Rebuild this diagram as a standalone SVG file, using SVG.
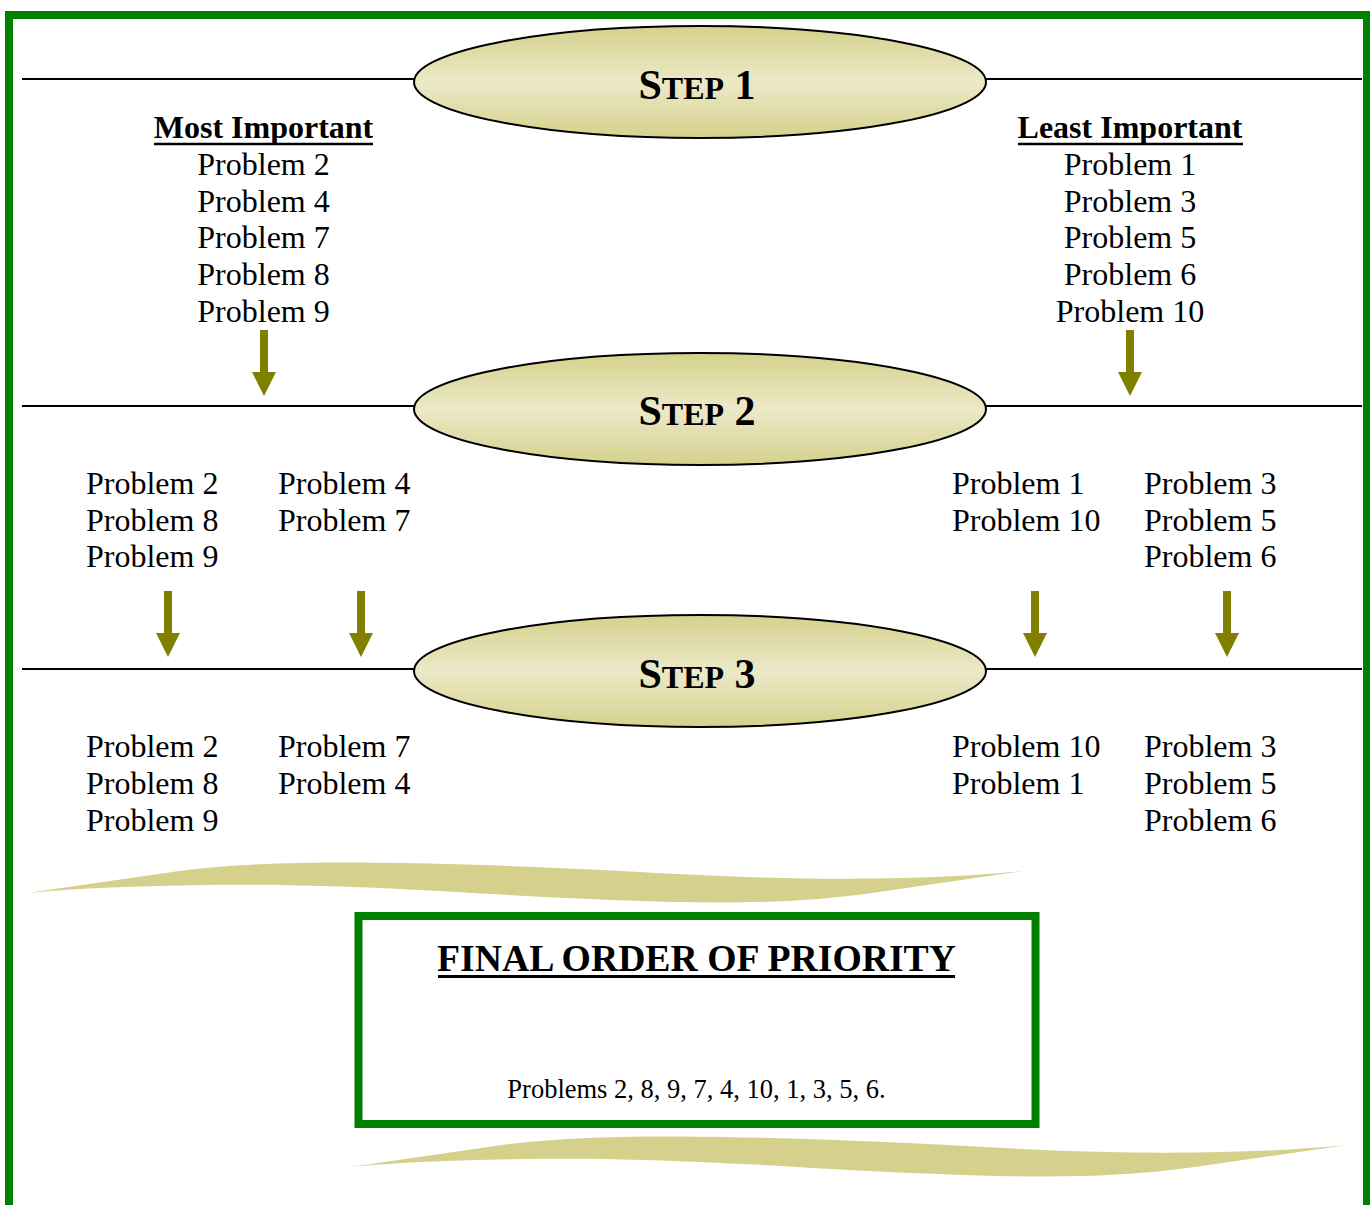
<svg xmlns="http://www.w3.org/2000/svg" xmlns:xlink="http://www.w3.org/1999/xlink" width="1370" height="1205" viewBox="0 0 1370 1205">
<style>
.t{font-family:"Liberation Serif","Times New Roman",serif;font-size:32px;fill:#000}
.c{text-anchor:middle}
.b{font-weight:bold}
.step{font-family:"Liberation Serif","Times New Roman",serif;font-size:42px;font-weight:bold;text-anchor:middle;fill:#000}
.rule{stroke:#000;stroke-width:2;fill:none}
.oval{fill:url(#g);stroke:#000;stroke-width:2}
.wave{fill:#d5d18c}
.arr{fill:#808000}
</style>
<defs>
<linearGradient id="g" x1="0" y1="0" x2="0" y2="1">
<stop offset="0" stop-color="#d5d18c"/>
<stop offset="0.5" stop-color="#ece9c8"/>
<stop offset="1" stop-color="#d5d18c"/>
</linearGradient>
<path id="arrow" class="arr" d="M-4,-66 L4,-66 L4,-24 L12,-24 L0,0 L-12,-24 L-4,-24 Z"/>
<path id="wave" class="wave" d="M27,893 L179,871 C250,862 330,862 400,863 C520,865 620,871 700,875 C820,881 930,880 1024,871 L872,893 C800,903 740,903 676,902 C560,899 480,893 420,890 C330,885 250,884 203,885 C140,886 80,888 27,893 Z"/>
</defs>
<rect x="0" y="0" width="1370" height="1205" fill="#fff"/>
<rect id="frame" x="9" y="15" width="1358" height="1300" fill="none" stroke="#008000" stroke-width="8"/>
<g id="rules">
<line class="rule" x1="22" y1="79" x2="1362" y2="79"/>
<line class="rule" x1="22" y1="406" x2="1362" y2="406"/>
<line class="rule" x1="22" y1="669" x2="1362" y2="669"/>
</g>
<g id="step1">
<ellipse class="oval" cx="700" cy="82" rx="286" ry="56"/>
<text class="step" x="697" y="99">S<tspan font-size="32">TEP</tspan> 1</text>
</g>
<g id="step2">
<ellipse class="oval" cx="700" cy="409" rx="286" ry="56"/>
<text class="step" x="697" y="425">S<tspan font-size="32">TEP</tspan> 2</text>
</g>
<g id="step3">
<ellipse class="oval" cx="700" cy="671" rx="286" ry="56"/>
<text class="step" x="697" y="688">S<tspan font-size="32">TEP</tspan> 3</text>
</g>
<g id="most-important">
<text class="t c b" x="263.5" y="138">Most Important</text>
<line x1="154" y1="144" x2="373" y2="144" stroke="#000" stroke-width="2.5"/>
<text class="t c" x="263.5" y="175">Problem 2</text>
<text class="t c" x="263.5" y="211.7">Problem 4</text>
<text class="t c" x="263.5" y="248.4">Problem 7</text>
<text class="t c" x="263.5" y="285.1">Problem 8</text>
<text class="t c" x="263.5" y="321.8">Problem 9</text>
</g>
<g id="least-important">
<text class="t c b" x="1130" y="138">Least Important</text>
<line x1="1018" y1="144" x2="1243" y2="144" stroke="#000" stroke-width="2.5"/>
<text class="t c" x="1130" y="175">Problem 1</text>
<text class="t c" x="1130" y="211.7">Problem 3</text>
<text class="t c" x="1130" y="248.4">Problem 5</text>
<text class="t c" x="1130" y="285.1">Problem 6</text>
<text class="t c" x="1130" y="321.8">Problem 10</text>
</g>
<g id="step2-group-a">
<text class="t" x="86" y="494">Problem 2</text>
<text class="t" x="86" y="530.7">Problem 8</text>
<text class="t" x="86" y="567.4">Problem 9</text>
</g>
<g id="step2-group-b">
<text class="t" x="278" y="494">Problem 4</text>
<text class="t" x="278" y="530.7">Problem 7</text>
</g>
<g id="step2-group-c">
<text class="t" x="952" y="494">Problem 1</text>
<text class="t" x="952" y="530.7">Problem 10</text>
</g>
<g id="step2-group-d">
<text class="t" x="1144" y="494">Problem 3</text>
<text class="t" x="1144" y="530.7">Problem 5</text>
<text class="t" x="1144" y="567.4">Problem 6</text>
</g>
<g id="step3-group-a">
<text class="t" x="86" y="757">Problem 2</text>
<text class="t" x="86" y="793.7">Problem 8</text>
<text class="t" x="86" y="830.7">Problem 9</text>
</g>
<g id="step3-group-b">
<text class="t" x="278" y="757">Problem 7</text>
<text class="t" x="278" y="793.7">Problem 4</text>
</g>
<g id="step3-group-c">
<text class="t" x="952" y="757">Problem 10</text>
<text class="t" x="952" y="793.7">Problem 1</text>
</g>
<g id="step3-group-d">
<text class="t" x="1144" y="757">Problem 3</text>
<text class="t" x="1144" y="793.7">Problem 5</text>
<text class="t" x="1144" y="830.7">Problem 6</text>
</g>
<g id="connectors">
<use xlink:href="#arrow" href="#arrow" x="264" y="396"/>
<use xlink:href="#arrow" href="#arrow" x="1130" y="396"/>
<use xlink:href="#arrow" href="#arrow" x="168" y="657"/>
<use xlink:href="#arrow" href="#arrow" x="361" y="657"/>
<use xlink:href="#arrow" href="#arrow" x="1035" y="657"/>
<use xlink:href="#arrow" href="#arrow" x="1227" y="657"/>
</g>
<g id="waves">
<use xlink:href="#wave" href="#wave"/>
<use xlink:href="#wave" href="#wave" transform="translate(323,274)"/>
</g>
<g id="final">
<rect x="358.5" y="916" width="677" height="208" fill="#fff" stroke="#008000" stroke-width="8"/>
<text class="t c b" x="696.5" y="971" style="font-size:37.7px">FINAL ORDER OF PRIORITY</text>
<line x1="438" y1="976.5" x2="955" y2="976.5" stroke="#000" stroke-width="3"/>
<text class="t c" x="696.5" y="1098" style="font-size:26.5px">Problems 2, 8, 9, 7, 4, 10, 1, 3, 5, 6.</text>
</g>
</svg>
